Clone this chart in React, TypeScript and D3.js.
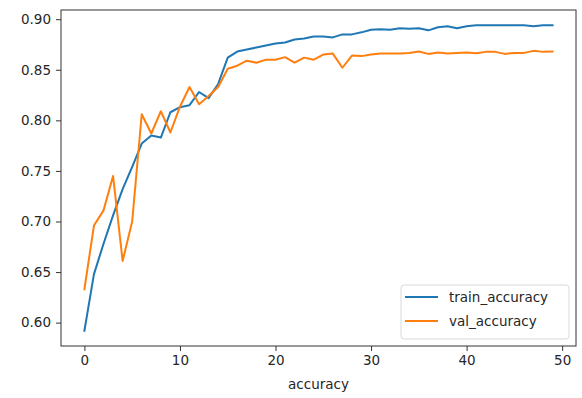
import React, { useEffect, useRef } from 'react';
import * as d3 from 'd3';

// epochs 0..49
const trainAccuracy = [0.592, 0.648, 0.678, 0.706, 0.732, 0.754, 0.777, 0.785, 0.783, 0.808,
    0.813, 0.815, 0.828, 0.822, 0.836, 0.862, 0.868, 0.870, 0.872, 0.874,
    0.876, 0.877, 0.880, 0.881, 0.883, 0.883, 0.882, 0.885, 0.885, 0.887,
    0.8895, 0.890, 0.8895, 0.891, 0.8905, 0.891, 0.889, 0.892, 0.893, 0.891,
    0.893, 0.894, 0.894, 0.894, 0.894, 0.894, 0.894, 0.893, 0.894, 0.894];

const valAccuracy = [0.633, 0.696, 0.711, 0.745, 0.661, 0.700, 0.806, 0.787, 0.809, 0.788,
    0.8135, 0.833, 0.816, 0.824, 0.833, 0.851, 0.854, 0.859, 0.857, 0.860,
    0.860, 0.8625, 0.857, 0.862, 0.860, 0.865, 0.866, 0.852, 0.864, 0.8635,
    0.865, 0.866, 0.866, 0.866, 0.8667, 0.868, 0.8657, 0.867, 0.866, 0.8667,
    0.867, 0.8663, 0.8677, 0.8677, 0.8657, 0.8667, 0.8667, 0.8687, 0.8677, 0.868];

const xTicks = [0, 10, 20, 30, 40, 50];
const yTicks = [0.60, 0.65, 0.70, 0.75, 0.80, 0.85, 0.90];
const seriesNames = ['train_accuracy', 'val_accuracy'];
const colors = ['#1f77b4', '#ff7f0e'];

const App = () => {
    const svgRef = useRef<SVGSVGElement>(null);

    useEffect(() => {
        const svg = d3.select(svgRef.current);
        svg.selectAll('*').remove();

        const margin = { top: 10, right: 6, bottom: 52, left: 61 }; // plot box roughly 61..576 x 10..346
        const width = 582, height = 398;
        const font = 'DejaVu Sans, sans-serif';

        const n = trainAccuracy.length;
        const allVals = trainAccuracy.concat(valAccuracy);
        const lo = d3.min(allVals)!, hi = d3.max(allVals)!;
        const padY = (hi - lo) * 0.05;   // matplotlib-ish 5% margins
        const padX = (n - 1) * 0.05;

        const x = d3.scaleLinear()
            .domain([-padX, n - 1 + padX])
            .range([margin.left, width - margin.right]);
        const y = d3.scaleLinear()
            .domain([lo - padY, hi + padY])
            .range([height - margin.bottom, margin.top]);

        const line = d3.line<number>()
            .x((_, i) => x(i))
            .y(d => y(d));

        [trainAccuracy, valAccuracy].forEach((s, k) => {
            svg.append('path')
                .datum(s)
                .attr('d', line)
                .attr('fill', 'none')
                .attr('stroke', colors[k])
                .attr('stroke-width', 2)
                .attr('stroke-linejoin', 'round')
                .attr('stroke-linecap', 'square');
        });

        // axes
        const xAxis = svg.append('g')
            .attr('transform', `translate(0,${height - margin.bottom})`)
            .call(d3.axisBottom(x).tickValues(xTicks).tickFormat(d3.format('d')).tickSize(5).tickPadding(4));
        const yAxis = svg.append('g')
            .attr('transform', `translate(${margin.left},0)`)
            .call(d3.axisLeft(y).tickValues(yTicks).tickFormat(d3.format('.2f')).tickSize(5).tickPadding(5));

        [xAxis, yAxis].forEach(g => {
            g.select('.domain').remove();
            g.selectAll('line').attr('stroke', '#333').attr('stroke-width', 1);
            g.selectAll('text')
                .attr('fill', '#262626')
                .style('font-family', font)
                .style('font-size', '13.5px');
        });

        // spines
        svg.append('rect')
            .attr('x', margin.left)
            .attr('y', margin.top)
            .attr('width', width - margin.left - margin.right)
            .attr('height', height - margin.top - margin.bottom)
            .attr('fill', 'none')
            .attr('stroke', '#333')
            .attr('stroke-width', 1);

        svg.append('text')
            .attr('x', (margin.left + width - margin.right) / 2)
            .attr('y', 389)
            .attr('text-anchor', 'middle')
            .attr('fill', '#262626')
            .style('font-family', font)
            .style('font-size', '13.5px')
            .text('accuracy');

        // legend, lower right
        const lg = svg.append('g').attr('transform', 'translate(401,285)');
        lg.append('rect')
            .attr('width', 168)
            .attr('height', 54)
            .attr('rx', 3)
            .attr('fill', 'white')
            .attr('fill-opacity', 0.8)
            .attr('stroke', '#d9d9d9');
        seriesNames.forEach((name, k) => {
            const yy = 12 + k * 24;
            lg.append('line')
                .attr('x1', 4).attr('x2', 37)
                .attr('y1', yy).attr('y2', yy)
                .attr('stroke', colors[k])
                .attr('stroke-width', 2);
            lg.append('text')
                .attr('x', 48)
                .attr('y', yy + 5)
                .attr('fill', '#262626')
                .style('font-family', font)
                .style('font-size', '13.5px')
                .text(name);
        });
    }, []);

    return (
        <svg ref={svgRef} width={582} height={398}
            style={{ position: 'absolute', left: 0, top: 0, background: 'white' }}></svg>
    );
};

export default App;
